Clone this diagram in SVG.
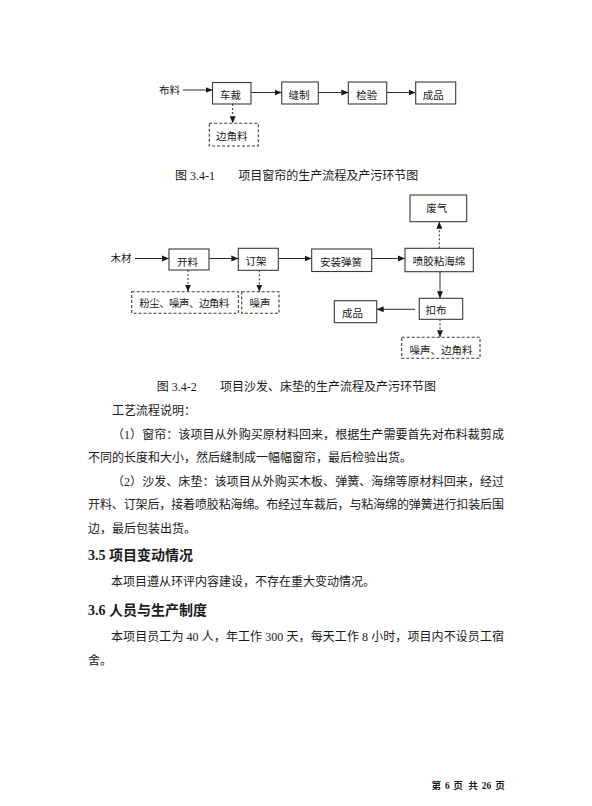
<svg xmlns="http://www.w3.org/2000/svg" width="592" height="806" viewBox="0 0 592 806">
<style>
text{font-family:"Liberation Serif","Noto Sans CJK SC",serif;fill:#1a1a1a}
.lb{font-size:10.5px;text-anchor:middle}
.body{font-size:12px}
.cap{font-size:12px}
.hd{font-size:14px;font-weight:bold}
.ft{font-size:9.5px;font-weight:bold}
.box{fill:#fff;stroke:#3a3a3a;stroke-width:1.1}
.dbox{fill:#fff;stroke:#3a3a3a;stroke-width:1.1;stroke-dasharray:3 2}
.ln{fill:none;stroke:#2a2a2a;stroke-width:1}
.dot{fill:none;stroke:#2a2a2a;stroke-width:1;stroke-dasharray:2 2}
</style>
<defs>
<marker id="ah" markerUnits="userSpaceOnUse" markerWidth="7" markerHeight="7" refX="7" refY="3.5" orient="auto">
<path d="M0,0.5 L7,3.5 L0,6.5 z" fill="#1a1a1a"/>
</marker>
</defs>
<rect width="592" height="806" fill="#fff"/>

<g id="connectors">
<path class="ln" d="M183,90 H212.5" marker-end="url(#ah)"/>
<path class="ln" d="M251,92.5 H281.7" marker-end="url(#ah)"/>
<path class="ln" d="M318.3,92.5 H348.3" marker-end="url(#ah)"/>
<path class="ln" d="M386.7,92.5 H415.7" marker-end="url(#ah)"/>
<path class="dot" d="M232.7,104 V123.3" marker-end="url(#ah)"/>
<path class="ln" d="M135,258.5 H169" marker-end="url(#ah)"/>
<path class="ln" d="M209,258.5 H238.3" marker-end="url(#ah)"/>
<path class="ln" d="M278.3,258.5 H311.7" marker-end="url(#ah)"/>
<path class="ln" d="M371.7,258.5 H405" marker-end="url(#ah)"/>
<path class="dot" d="M439.3,248.3 V221.7" marker-end="url(#ah)"/>
<path class="dot" d="M188,270 V291.7" marker-end="url(#ah)"/>
<path class="dot" d="M259.3,270.3 V291.7" marker-end="url(#ah)"/>
<path class="ln" d="M440,271.7 V298.3" marker-end="url(#ah)"/>
<path class="ln" d="M415,309.3 H376.7" marker-end="url(#ah)"/>
<path class="dot" d="M440,319.3 V337.3" marker-end="url(#ah)"/>
</g>

<g id="d1-input"><text class="lb" x="169.5" y="94">布料</text></g>
<g id="d1-checai"><rect class="box" x="212.5" y="82.5" width="38.5" height="21.5"/><text class="lb" x="230.5" y="99">车裁</text></g>
<g id="d1-fengzhi"><rect class="box" x="281.7" y="82" width="36.6" height="22"/><text class="lb" x="299" y="99">缝制</text></g>
<g id="d1-jianyan"><rect class="box" x="348.3" y="82" width="38.4" height="22"/><text class="lb" x="366.7" y="99">检验</text></g>
<g id="d1-chengpin"><rect class="box" x="415.7" y="82" width="40" height="22"/><text class="lb" x="433.3" y="99">成品</text></g>
<g id="d1-bianjiaoliao"><rect class="dbox" x="209.3" y="123.3" width="49" height="22.7"/><text class="lb" x="231.7" y="139.7">边角料</text></g>

<text class="cap" x="175" y="179.5">图 3.4-1</text>
<text class="cap" x="238.3" y="179.5">项目窗帘的生产流程及产污环节图</text>

<g id="d2-feiqi"><rect class="box" x="410" y="195" width="56.7" height="26.7"/><text class="lb" x="436.7" y="211.5">废气</text></g>
<g id="d2-input"><text class="lb" x="121" y="262.3">木材</text></g>
<g id="d2-kailiao"><rect class="box" x="169" y="249" width="40" height="21"/><text class="lb" x="187.5" y="265.7">开料</text></g>
<g id="d2-dingjia"><rect class="box" x="238.3" y="248.3" width="40" height="22"/><text class="lb" x="256" y="265.2">订架</text></g>
<g id="d2-anzhuang"><rect class="box" x="311.7" y="249" width="60" height="22.5"/><text class="lb" x="341" y="266">安装弹簧</text></g>
<g id="d2-penjiao"><rect class="box" x="405" y="248.3" width="68.3" height="23.4"/><text class="lb" x="439" y="265.2">喷胶粘海绵</text></g>
<g id="d2-koubu"><rect class="box" x="419.3" y="298.3" width="43.4" height="21"/><text class="lb" x="436" y="314">扣布</text></g>
<g id="d2-chengpin"><rect class="box" x="334.3" y="300.7" width="42.4" height="22"/><text class="lb" x="352.5" y="316.7">成品</text></g>
<g id="d2-fenchen"><rect class="dbox" x="131.7" y="291.7" width="106.6" height="21.6"/><text class="lb" x="184.3" y="307.3" textLength="90" lengthAdjust="spacing">粉尘、噪声、边角料</text></g>
<g id="d2-zaosheng"><rect class="dbox" x="241.7" y="291.7" width="37.3" height="21.6"/><text class="lb" x="260" y="307.3">噪声</text></g>
<g id="d2-zaosheng2"><rect class="dbox" x="401.7" y="337.3" width="78.3" height="21"/><text class="lb" x="441" y="354">噪声、边角料</text></g>

<text class="cap" x="156.7" y="390.5">图 3.4-2</text>
<text class="cap" x="220" y="390.5">项目沙发、床垫的生产流程及产污环节图</text>

<text class="body" x="112" y="415">工艺流程说明：</text>
<text class="body" x="112" y="438.6" textLength="392" lengthAdjust="spacing">（1）窗帘：该项目从外购买原材料回来，根据生产需要首先对布料裁剪成</text>
<text class="body" x="88" y="462.2">不同的长度和大小，然后缝制成一幅幅窗帘，最后检验出货。</text>
<text class="body" x="112" y="485.8" textLength="392" lengthAdjust="spacing">（2）沙发、床垫：该项目从外购买木板、弹簧、海绵等原材料回来，经过</text>
<text class="body" x="88" y="509.4" textLength="416" lengthAdjust="spacing">开料、订架后，接着喷胶粘海绵。布经过车裁后，与粘海绵的弹簧进行扣装后围</text>
<text class="body" x="88" y="533">边，最后包装出货。</text>

<text class="hd" x="88" y="560">3.5 项目变动情况</text>
<text class="body" x="111" y="586">本项目遵从环评内容建设，不存在重大变动情况。</text>
<text class="hd" x="88" y="615">3.6 人员与生产制度</text>
<text class="body" x="111" y="641" textLength="393" lengthAdjust="spacing">本项目员工为 40 人，年工作 300 天，每天工作 8 小时，项目内不设员工宿</text>
<text class="body" x="88" y="664.5">舍。</text>

<text class="ft" y="788.5"><tspan x="431.5">第</tspan><tspan x="445">6</tspan><tspan x="453.3">页</tspan><tspan x="468.3">共</tspan><tspan x="481.7">26</tspan><tspan x="495.2">页</tspan></text>
</svg>
